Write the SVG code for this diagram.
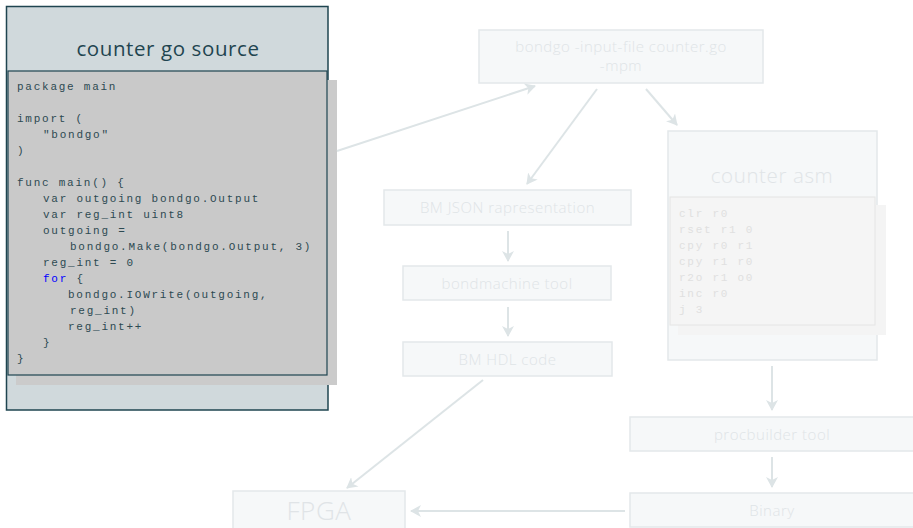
<svg xmlns="http://www.w3.org/2000/svg" width="913" height="528" viewBox="0 0 913 528">
<defs>
<style>
.node{fill:#f6f8f9;stroke:#e3e8ea;stroke-width:1.5}
.lbl{font-family:"Open Sans","Noto Sans","DejaVu Sans",sans-serif;font-weight:300;font-size:15px;letter-spacing:0.5px;fill:#dfe4e7;text-anchor:middle}
.ttl{font-family:"Open Sans","Noto Sans","DejaVu Sans",sans-serif;font-weight:300;text-anchor:middle;letter-spacing:0.6px}
.code{font-family:"Liberation Mono","DejaVu Sans Mono",monospace;font-size:11px;letter-spacing:1.75px;fill:#2d4a52}
.acode{font-family:"Liberation Mono","DejaVu Sans Mono",monospace;font-size:11px;letter-spacing:1.75px;fill:#e0e0e0}
.edge{fill:none;stroke:#dde4e6;stroke-width:2}
</style>
<marker id="ah" markerWidth="12" markerHeight="12" refX="10" refY="6" orient="auto" markerUnits="userSpaceOnUse">
<path d="M0,0 L11,6 L0,12 L3,6 z" fill="#dde4e6"/>
</marker>
</defs>
<rect width="913" height="528" fill="#ffffff"/>

<g id="source">
<rect x="6.5" y="6.5" width="321.5" height="403.5" fill="#d0d9dc" stroke="#1f4550" stroke-width="1.5"/>
<text class="ttl" x="168" y="56" font-size="20.5" style="font-weight:400" fill="#1f4550">counter go source</text>
<rect x="16" y="80" width="321" height="305" fill="#cbcbcb"/>
<rect x="8" y="71" width="319" height="304" fill="#c9c9c9" stroke="#1f4550" stroke-width="1.2"/>
<text class="code" x="17" y="90">package main</text>
<text class="code" x="17" y="122">import (</text>
<text class="code" x="43" y="138">"bondgo"</text>
<text class="code" x="17" y="154">)</text>
<text class="code" x="17" y="186">func main() {</text>
<text class="code" x="43" y="202">var outgoing bondgo.Output</text>
<text class="code" x="43" y="218">var reg_int uint8</text>
<text class="code" x="43" y="234">outgoing =</text>
<text class="code" x="70" y="250">bondgo.Make(bondgo.Output, 3)</text>
<text class="code" x="43" y="266">reg_int = 0</text>
<text class="code" x="43" y="282"><tspan fill="#0000ff">for</tspan> {</text>
<text class="code" x="68" y="298">bondgo.IOWrite(outgoing,</text>
<text class="code" x="70" y="314">reg_int)</text>
<text class="code" x="68" y="330">reg_int++</text>
<text class="code" x="43" y="346">}</text>
<text class="code" x="17" y="362">}</text>
</g>

<g id="bondgo">
<rect class="node" x="479" y="30" width="284" height="53"/>
<text class="lbl" x="621" y="52" font-size="14.5">bondgo -input-file counter.go</text>
<text class="lbl" x="621" y="71" font-size="14.5">-mpm</text>
</g>

<g id="asm">
<rect class="node" x="668" y="131" width="209" height="229"/>
<text class="ttl" x="772" y="183" font-size="20.5" fill="#e0e4e7">counter asm</text>
<rect x="678" y="205" width="208" height="130" fill="#f4f4f4"/>
<rect x="670" y="197" width="205" height="128" fill="#f5f5f5" stroke="#e4e4e4" stroke-width="1"/>
<text class="acode" x="679" y="217">clr r0</text>
<text class="acode" x="679" y="233">rset r1 0</text>
<text class="acode" x="679" y="249">cpy r0 r1</text>
<text class="acode" x="679" y="265">cpy r1 r0</text>
<text class="acode" x="679" y="281">r2o r1 o0</text>
<text class="acode" x="679" y="297">inc r0</text>
<text class="acode" x="679" y="313">j 3</text>
</g>

<g id="json">
<rect class="node" x="384" y="190" width="247" height="35"/>
<text class="lbl" x="507.5" y="213">BM JSON rapresentation</text>
</g>

<g id="bmtool">
<rect class="node" x="403" y="266" width="208" height="34"/>
<text class="lbl" x="507" y="289">bondmachine tool</text>
</g>

<g id="hdl">
<rect class="node" x="403" y="342" width="209" height="34"/>
<text class="lbl" x="507.5" y="365">BM HDL code</text>
</g>

<g id="procbuilder">
<rect class="node" x="630" y="417" width="290" height="34"/>
<text class="lbl" x="772" y="440">procbuilder tool</text>
</g>

<g id="binary">
<rect class="node" x="630" y="493" width="290" height="34"/>
<text class="lbl" x="772" y="516">Binary</text>
</g>

<g id="fpga">
<rect class="node" x="233" y="491" width="172" height="40"/>
<text class="ttl" x="319" y="520" font-size="26" fill="#e0e4e7">FPGA</text>
</g>

<g id="connectors">
<line class="edge" x1="337" y1="151" x2="535" y2="86" marker-end="url(#ah)"/>
<line class="edge" x1="597" y1="89" x2="527" y2="184" marker-end="url(#ah)"/>
<line class="edge" x1="646" y1="89" x2="677" y2="125" marker-end="url(#ah)"/>
<line class="edge" x1="508" y1="231" x2="508" y2="261" marker-end="url(#ah)"/>
<line class="edge" x1="508" y1="307" x2="508" y2="336" marker-end="url(#ah)"/>
<line class="edge" x1="483" y1="380" x2="347" y2="488" marker-end="url(#ah)"/>
<line class="edge" x1="772" y1="366" x2="772" y2="410" marker-end="url(#ah)"/>
<line class="edge" x1="772" y1="457" x2="772" y2="487" marker-end="url(#ah)"/>
<line class="edge" x1="625" y1="511" x2="411" y2="511" marker-end="url(#ah)"/>
</g>
</svg>
